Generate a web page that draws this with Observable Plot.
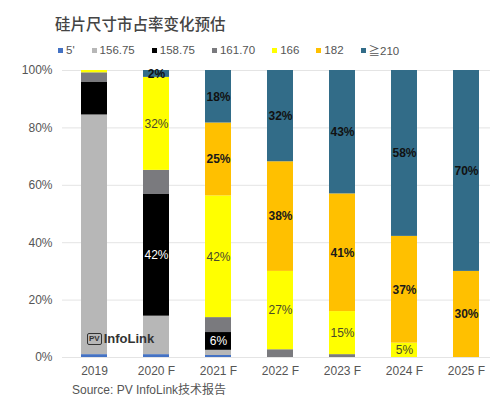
<!DOCTYPE html>
<html>
<head>
<meta charset="utf-8">
<script src="https://cdn.jsdelivr.net/npm/d3@7"></script>
<script src="https://cdn.jsdelivr.net/npm/@observablehq/plot@0.6"></script>
<style>
  html, body { margin: 0; padding: 0; background: #fff; }
  #wrap { position: relative; width: 500px; height: 396px; overflow: hidden;
          font-family: "Liberation Sans", "Noto Sans CJK SC", sans-serif; }
  #title { position: absolute; left: 55px; top: 12px; font-size: 15.5px; color: #444;
           font-family: "Noto Sans CJK SC", sans-serif; font-weight: 500; }
  #legend { position: absolute; left: 58px; top: 42px; display: flex; gap: 17px;
            font-size: 11.5px; color: #555; align-items: center; }
  #legend .item { display: flex; align-items: center; }
  #legend .sw { width: 5px; height: 5px; margin-right: 3px; }
  #source { position: absolute; left: 72px; top: 380px; font-size: 12px; color: #555; }
  #logo { position: absolute; left: 87px; top: 331px; font-size: 13px; color: #333;
          display: flex; align-items: center; font-weight: 600; }
  #logo .pv { border: 1.5px solid #333; border-radius: 2px; font-size: 8px; padding: 0 1px;
              margin-right: 2px; line-height: 10px; }
  #chart { position: absolute; left: 0; top: 0; }
</style>
</head>
<body>
<div id="wrap">
  <div id="chart"></div>
  <div id="title"></div>
  <div id="legend"></div>
  <div id="logo"><span class="pv">PV</span><span>InfoLink</span></div>
  <div id="source"></div>
</div>
<script>
const titleText = "硅片尺寸市占率变化预估";
const sourceText = "Source: PV InfoLink技术报告";
const years = ["2019", "2020 F", "2021 F", "2022 F", "2023 F", "2024 F", "2025 F"];
const seriesNames = ["5'", "156.75", "158.75", "161.70", "166", "182", "≧210"];
const seriesColors = ["#4472c4", "#b7b7b7", "#000000", "#7a7a7e", "#ffff00", "#ffc000", "#326c88"];
const s5      = [1.0, 1.0, 0.7, 0, 0, 0, 0];
const s15675  = [83.5, 13.4, 1.8, 0, 0, 0, 0];
const s15875  = [11.5, 42.4, 6.2, 0, 0, 0, 0];
const s16170  = [3.2, 8.4, 5.2, 2.7, 1.0, 0, 0];
const s166    = [0.8, 32.4, 42.4, 27.3, 15.0, 5.0, 0];
const s182    = [0, 0, 25.4, 38.2, 41.0, 37.2, 30.0];
const s210    = [0, 2.4, 18.3, 31.8, 43.0, 57.8, 70.0];
const yTicks = [0, 20, 40, 60, 80, 100];
const normalLabelSeries = ["158.75", "166"];
const boldLabelSeries = ["182", "≧210"];
const labelColors = {"158.75": "#ffffff", "166": "#4a4a2a", "182": "#1a1a1a", "≧210": "#111111"};

const allSeries = [s5, s15675, s15875, s16170, s166, s182, s210];
const rows = [];
seriesNames.forEach((name, si) => {
  years.forEach((yr, yi) => {
    const v = allSeries[si][yi];
    if (v > 0) rows.push({year: yr, series: name, value: v});
  });
});
const labelText = list => d => (d.year !== years[0] && list.includes(d.series)) ? Math.round(d.value) + "%" : null;

document.getElementById("title").textContent = titleText;
document.getElementById("source").textContent = sourceText;
const legend = document.getElementById("legend");
seriesNames.forEach((n, i) => {
  const it = document.createElement("div"); it.className = "item";
  const sw = document.createElement("span"); sw.className = "sw"; sw.style.background = seriesColors[i];
  const tx = document.createElement("span"); tx.textContent = n;
  it.appendChild(sw); it.appendChild(tx); legend.appendChild(it);
});

const stackOpts = {x: "year", y: "value", z: "series", order: seriesNames};
const plot = Plot.plot({
  width: 500,
  height: 396,
  marginTop: 70,
  marginBottom: 39,
  marginLeft: 62,
  marginRight: 10,
  style: {fontFamily: "Liberation Sans, sans-serif", fontSize: "12px", color: "#555", background: "transparent"},
  x: {domain: years, paddingInner: 0.58, paddingOuter: 0.225, align: 0.64, label: null, tickSize: 0, tickPadding: 9},
  y: {domain: [0, 100], ticks: yTicks, tickFormat: d => d + "%", label: null, tickSize: 0, tickPadding: 10},
  color: {domain: seriesNames, range: seriesColors},
  marks: [
    Plot.gridY(yTicks, {stroke: "#e4e4e4", strokeOpacity: 1}),
    Plot.barY(rows, Plot.stackY({...stackOpts, fill: "series"})),
    Plot.text(rows, Plot.stackY({
      ...stackOpts,
      text: labelText(normalLabelSeries),
      fill: d => labelColors[d.series] || "#000",
      fontSize: 12
    })),
    Plot.text(rows, Plot.stackY({
      ...stackOpts,
      text: labelText(boldLabelSeries),
      fill: d => labelColors[d.series] || "#000",
      fontWeight: "bold",
      fontSize: 12
    }))
  ]
});
document.getElementById("chart").appendChild(plot);
</script>
</body>
</html>
